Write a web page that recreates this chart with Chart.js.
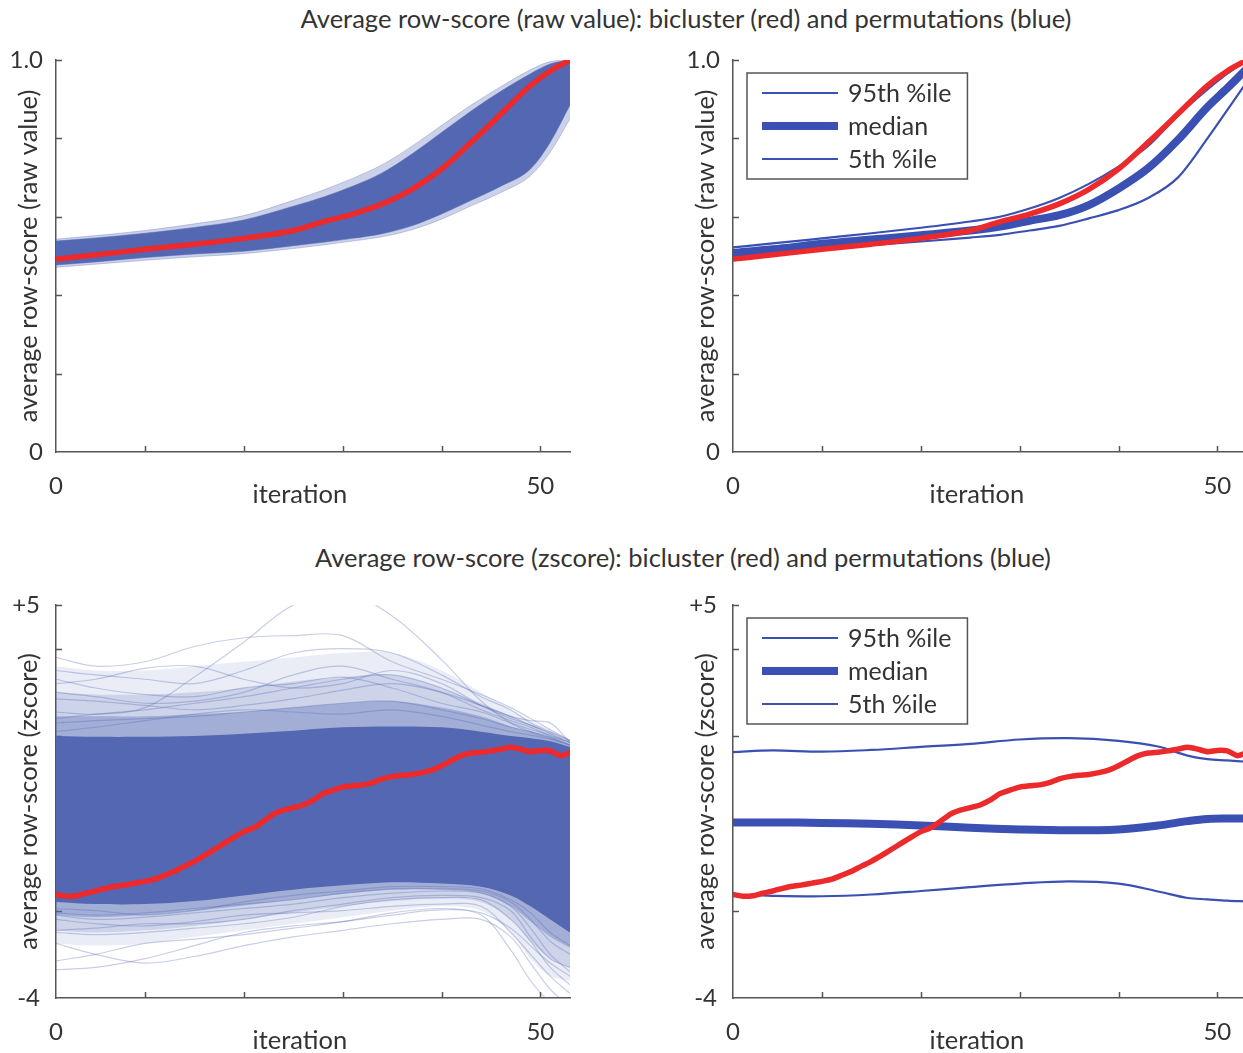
<!DOCTYPE html>
<html>
<head>
<meta charset="utf-8">
<script src="https://cdn.jsdelivr.net/npm/chart.js@4.4.1/dist/chart.umd.min.js"></script>
<style>
  html, body { margin: 0; padding: 0; background: #fff; overflow: hidden; width: 1243px; height: 1053px; }
  .titulo { position: absolute; left: 0; text-align: center; font: 25.5px/30px Lato, sans-serif; color: #333; white-space: nowrap; }
  canvas { position: absolute; }
</style>
</head>
<body>
<div class="titulo" style="top:3px; width:1372px">Average row-score (raw value): bicluster (red) and permutations (blue)</div>
<div class="titulo" style="top:542px; width:1366px">Average row-score (zscore): bicluster (red) and permutations (blue)</div>

<canvas id="rawPerm" width="640" height="500" style="left:0; top:40px"></canvas>
<canvas id="rawPct" width="640" height="500" style="left:677px; top:40px"></canvas>
<canvas id="zPerm" width="640" height="501" style="left:0; top:585px"></canvas>
<canvas id="zPct" width="640" height="501" style="left:677px; top:585px"></canvas>

<script>
// ===============================
// DATOS
// ===============================
const iteraciones = Array.from({ length: 53 }, (_, i) => i + 1);
const iterTicks = [1, 10, 20, 30, 40, 50];
const iterLabels = { 1: "0", 50: "50" };

const rawTicks = [0, 0.2, 0.4, 0.6, 0.8, 1.0];
const rawLabels = { 0: "0", 1: "1.0" };
const zTicks = [-4, -2, 0, 2, 4, 5];
const zLabels = { "-4": "-4", 5: "+5" };

// valor crudo
const rawIters = [1, 5, 10, 15, 20, 25, 28, 31, 34, 37, 40, 43, 46, 49, 51, 53];
const rawBicluster = [0.492, 0.503, 0.517, 0.530, 0.545, 0.565, 0.587, 0.607, 0.633, 0.670, 0.722, 0.790, 0.862, 0.935, 0.972, 1.0];
const rawPermTop = [0.538, 0.546, 0.558, 0.573, 0.592, 0.627, 0.650, 0.678, 0.712, 0.760, 0.815, 0.870, 0.920, 0.965, 0.990, 1.0];
const rawPermBottom = [0.477, 0.485, 0.496, 0.505, 0.512, 0.526, 0.535, 0.545, 0.557, 0.577, 0.607, 0.642, 0.678, 0.722, 0.790, 0.885];
const rawHazeTop = [0.543, 0.552, 0.565, 0.582, 0.603, 0.642, 0.668, 0.698, 0.733, 0.780, 0.833, 0.885, 0.932, 0.975, 0.996, 1.0];
const rawHazeBottom = [0.471, 0.479, 0.489, 0.498, 0.506, 0.519, 0.528, 0.538, 0.549, 0.567, 0.594, 0.628, 0.662, 0.705, 0.765, 0.850];
const rawP95 = [0.522, 0.532, 0.545, 0.558, 0.572, 0.588, 0.600, 0.621, 0.648, 0.684, 0.728, 0.781, 0.858, 0.925, 0.965, 1.0];
const rawMedian = [0.508, 0.517, 0.531, 0.542, 0.553, 0.565, 0.575, 0.590, 0.604, 0.630, 0.672, 0.724, 0.796, 0.880, 0.928, 0.978];
const rawP5 = [0.500, 0.508, 0.519, 0.528, 0.537, 0.547, 0.554, 0.565, 0.577, 0.596, 0.617, 0.648, 0.700, 0.800, 0.872, 0.945];

// zscore
const zBicluster = [-1.63, -1.67, -1.66, -1.60, -1.55, -1.49, -1.44, -1.41, -1.37, -1.33,
  -1.28, -1.19, -1.10, -0.98, -0.87, -0.74, -0.60, -0.46, -0.32, -0.19,
  -0.10, 0.05, 0.21, 0.30, 0.36, 0.42, 0.53, 0.68, 0.76, 0.83,
  0.86, 0.88, 0.93, 1.02, 1.07, 1.10, 1.12, 1.16, 1.22, 1.32,
  1.44, 1.55, 1.61, 1.63, 1.66, 1.70, 1.74, 1.70, 1.64, 1.67,
  1.66, 1.55, 1.62];
const zIters = [1, 5, 10, 15, 20, 25, 30, 35, 40, 44, 47, 49, 51, 53];
// núcleo denso y capas cada vez más claras hacia fuera
const zDenseTop = [2.00, 1.98, 1.98, 2.00, 2.05, 2.12, 2.20, 2.22, 2.20, 2.10, 2.00, 1.95, 1.88, 1.75];
const zDenseBottom = [-1.80, -1.85, -1.85, -1.78, -1.65, -1.52, -1.42, -1.35, -1.38, -1.45, -1.65, -1.90, -2.20, -2.50];
const zMid1Top = [2.45, 2.45, 2.45, 2.50, 2.55, 2.65, 2.75, 2.80, 2.65, 2.45, 2.22, 2.10, 1.98, 1.80];
const zMid1Bottom = [-2.10, -2.15, -2.10, -2.00, -1.88, -1.75, -1.62, -1.52, -1.52, -1.60, -1.90, -2.25, -2.60, -2.85];
const zMid2Top = [3.00, 2.95, 2.95, 3.00, 3.10, 3.25, 3.35, 3.40, 3.10, 2.75, 2.45, 2.25, 2.08, 1.85];
const zMid2Bottom = [-2.45, -2.50, -2.45, -2.35, -2.20, -2.05, -1.90, -1.78, -1.72, -1.80, -2.20, -2.70, -3.10, -3.30];
const zHazeTop = [3.60, 3.50, 3.50, 3.60, 3.70, 3.80, 3.90, 3.90, 3.50, 3.00, 2.60, 2.35, 2.15, 1.90];
const zHazeBottom = [-2.75, -2.80, -2.75, -2.60, -2.45, -2.30, -2.15, -2.00, -1.90, -2.00, -2.50, -3.10, -3.50, -3.60];
// permutaciones sueltas fuera del núcleo
const zPermLines = [
  [2.55, 2.50, 2.65, 3.35, 4.15, 5.00, 5.30, 4.75, 3.75, 2.80, 2.30, 2.10, 1.95, 1.80],
  [3.80, 3.60, 3.70, 4.05, 4.25, 4.30, 4.30, 3.70, 3.30, 2.95, 2.65, 2.40, 2.15, 1.90],
  [3.50, 3.40, 3.30, 3.20, 3.50, 3.90, 4.00, 3.90, 3.40, 2.90, 2.60, 2.30, 2.10, 1.90],
  [3.20, 3.30, 3.55, 3.60, 3.30, 3.10, 3.20, 3.50, 3.20, 2.70, 2.40, 2.25, 2.05, 1.85],
  [3.00, 2.90, 2.75, 2.80, 3.00, 3.40, 3.60, 3.30, 3.00, 2.60, 2.35, 2.20, 2.00, 1.85],
  [2.40, 2.50, 2.60, 2.75, 2.90, 3.10, 3.30, 3.40, 3.10, 2.70, 2.45, 2.35, 2.30, 1.85],
  [2.30, 2.35, 2.40, 2.45, 2.55, 2.65, 2.75, 2.80, 2.60, 2.40, 2.20, 2.10, 1.98, 1.80],
  [2.85, 2.80, 2.70, 2.60, 2.70, 2.85, 3.05, 3.20, 3.00, 2.70, 2.45, 2.25, 2.08, 1.88],
  [2.10, 2.20, 2.35, 2.50, 2.60, 2.55, 2.50, 2.60, 2.45, 2.25, 2.10, 2.02, 1.93, 1.78],
  [3.30, 3.10, 2.95, 2.90, 3.10, 3.20, 3.35, 3.10, 2.75, 2.55, 2.30, 2.15, 2.02, 1.85],
  [-3.35, -3.30, -3.10, -2.80, -2.50, -2.35, -2.25, -2.10, -1.98, -2.10, -2.90, -3.60, -4.10, -4.30],
  [-3.15, -3.00, -2.75, -2.65, -2.55, -2.40, -2.25, -2.05, -1.95, -2.05, -2.40, -2.80, -3.20, -3.50],
  [-2.75, -3.00, -3.20, -3.05, -2.80, -2.60, -2.45, -2.30, -2.20, -2.20, -2.60, -3.20, -3.80, -4.20],
  [-2.50, -2.55, -2.50, -2.40, -2.30, -2.15, -1.90, -1.75, -1.70, -1.75, -2.20, -2.70, -3.30, -3.70],
  [-2.10, -2.20, -2.15, -2.05, -1.95, -1.85, -1.70, -1.60, -1.55, -1.60, -1.90, -2.40, -3.00, -3.40],
  [-2.20, -2.30, -2.35, -2.25, -2.10, -2.05, -2.00, -1.90, -1.85, -1.90, -2.50, -3.00, -3.50, -3.90],
  [-2.05, -2.10, -2.05, -1.95, -1.85, -1.75, -1.60, -1.50, -1.50, -1.55, -1.80, -2.20, -2.70, -3.00],
  [-2.45, -2.40, -2.30, -2.30, -2.20, -2.00, -1.85, -1.70, -1.65, -1.70, -2.00, -2.60, -3.10, -3.30],
  [-1.95, -2.00, -2.10, -2.00, -1.80, -1.65, -1.55, -1.45, -1.45, -1.50, -1.75, -2.05, -2.50, -2.80]
];
const zP95 = [1.63, 1.67, 1.64, 1.68, 1.75, 1.82, 1.92, 1.95, 1.89, 1.76, 1.55, 1.47, 1.44, 1.41];
const zMedian = [0.02, 0.02, 0.01, -0.01, -0.05, -0.10, -0.14, -0.16, -0.14, -0.05, 0.05, 0.10, 0.11, 0.11];
const zP5 = [-1.63, -1.66, -1.67, -1.63, -1.55, -1.46, -1.38, -1.33, -1.38, -1.56, -1.71, -1.74, -1.77, -1.79];

// ===============================
// ESTILO
// ===============================
const ROJO = "#ec2a2c";
const AZUL = "rgb(83, 103, 178)";
const AZUL_PCT = "#3a50b2";
const TEXTO = "#333";
const FUENTE = "Lato, sans-serif";

function pts(xs, ys) {
    return ys.map((y, i) => ({ x: xs[i], y: y }));
}

// marcas de los ejes hacia dentro
const marcasInternas = {
    id: "marcasInternas",
    beforeDatasetsDraw(chart) {
        const { ctx } = chart;
        const x = chart.scales.x;
        const y = chart.scales.y;
        ctx.save();
        ctx.strokeStyle = "#555";
        ctx.lineWidth = 1.5;
        ctx.beginPath();
        x.ticks.forEach(t => {
            if (t.value === x.min) return;
            const px = Math.round(x.getPixelForValue(t.value)) + 0.5;
            ctx.moveTo(px, y.bottom);
            ctx.lineTo(px, y.bottom - 6);
        });
        y.ticks.forEach(t => {
            if (t.value === y.min) return;
            const py = Math.round(y.getPixelForValue(t.value)) + 0.5;
            ctx.moveTo(x.left, py);
            ctx.lineTo(x.left + 6, py);
        });
        ctx.stroke();
        ctx.restore();
    }
};

// leyenda con recuadro dentro del área del gráfico
const leyendaCaja = {
    id: "leyendaCaja",
    afterDraw(chart, args, opts) {
        if (!opts.display) return;
        const { ctx, chartArea } = chart;
        const filas = chart.data.datasets.filter(d => d.enLeyenda);
        ctx.save();
        ctx.font = "25px " + FUENTE;
        const x0 = chartArea.left + 14;
        const y0 = chartArea.top + 13;
        const anchoTexto = Math.max(...filas.map(f => ctx.measureText(f.label).width));
        const ancho = 101 + anchoTexto + 16;
        const alto = 106;
        ctx.fillStyle = "#fff";
        ctx.fillRect(x0, y0, ancho, alto);
        ctx.strokeStyle = "#555";
        ctx.lineWidth = 1.5;
        ctx.strokeRect(x0, y0, ancho, alto);
        filas.forEach((f, i) => {
            const y = y0 + 20 + i * 33;
            ctx.beginPath();
            ctx.moveTo(x0 + 15, y);
            ctx.lineTo(x0 + 91, y);
            ctx.strokeStyle = f.borderColor;
            ctx.lineWidth = f.borderWidth;
            ctx.stroke();
            ctx.fillStyle = TEXTO;
            ctx.textBaseline = "middle";
            ctx.fillText(f.label, x0 + 101, y + 1);
        });
        ctx.restore();
    }
};

function opciones(yMin, yMax, yTicks, yLabels, yTitulo, conLeyenda, yPad) {
    const fuenteTicks = { family: FUENTE, size: 24 };
    const fuenteTitulo = { family: FUENTE, size: 25.5 };
    return {
        responsive: false,
        animation: false,
        layout: { padding: { left: 0, top: 20, right: 70, bottom: 28 } },
        elements: { point: { radius: 0 } },
        plugins: {
            legend: { display: false },
            tooltip: { enabled: false },
            leyendaCaja: { display: conLeyenda }
        },
        scales: {
            x: {
                type: "linear",
                min: 1,
                max: 53,
                afterBuildTicks: s => { s.ticks = iterTicks.map(v => ({ value: v })); },
                afterFit: s => { s.height = 60; s.paddingLeft = 0; s.paddingRight = 0; },
                grid: { display: false, drawTicks: false },
                border: { display: true, color: "#555", width: 1.5 },
                ticks: {
                    autoSkip: false, maxRotation: 0, padding: 20, color: TEXTO, font: fuenteTicks,
                    callback: v => iterLabels[v] || ""
                },
                // los espacios finales corren el título un poco a la izquierda
                title: { display: true, text: "iteration    ", color: TEXTO, font: fuenteTitulo, padding: { top: 0, bottom: 2 } }
            },
            y: {
                min: yMin,
                max: yMax,
                afterBuildTicks: s => { s.ticks = yTicks.map(v => ({ value: v })); },
                afterFit: s => { s.width = 56; s.paddingTop = 0; s.paddingBottom = 0; },
                grid: { display: false, drawTicks: false },
                border: { display: true, color: "#555", width: 1.5 },
                ticks: {
                    autoSkip: false, padding: yPad, color: TEXTO, font: fuenteTicks,
                    callback: v => yLabels[v] || ""
                },
                title: { display: true, text: yTitulo, color: TEXTO, font: fuenteTitulo, padding: { top: 13, bottom: 0 } }
            }
        }
    };
}

function lineaRoja(xs, ys, suave) {
    return {
        label: "bicluster",
        data: pts(xs, ys),
        borderColor: ROJO,
        borderWidth: 5.5,
        borderCapStyle: "round",
        order: 0,
        cubicInterpolationMode: suave ? "monotone" : "default",
        tension: suave ? 0.4 : 0.15
    };
}

function percentiles(xs, p95, med, p5, suave) {
    const base = { borderColor: AZUL_PCT, fill: false, order: 1, tension: 0.35 };
    if (suave) base.cubicInterpolationMode = "monotone";
    return [
        Object.assign({}, base, { label: "95th %ile", data: pts(xs, p95), borderWidth: 2.2, enLeyenda: true }),
        Object.assign({}, base, { label: "median", data: pts(xs, med), borderWidth: 8, enLeyenda: true }),
        Object.assign({}, base, { label: "5th %ile", data: pts(xs, p5), borderWidth: 2.2, enLeyenda: true })
    ];
}

// par de bordes con relleno entre ellos
function banda(xs, arriba, abajo, color, orden, borde) {
    const comun = { borderWidth: borde ? 1 : 0, borderColor: borde || "transparent", order: orden };
    const suavizado = xs === rawIters ? { cubicInterpolationMode: "monotone" } : { tension: 0.35 };
    return [
        Object.assign({ data: pts(xs, arriba), backgroundColor: color, fill: "+1" }, comun, suavizado),
        Object.assign({ data: pts(xs, abajo), fill: false }, comun, suavizado)
    ];
}

Chart.register(marcasInternas, leyendaCaja);

// ===============================
// VALOR CRUDO: PERMUTACIONES
// ===============================
new Chart(document.getElementById("rawPerm"), {
    type: "line",
    data: {
        datasets: [lineaRoja(rawIters, rawBicluster, true)]
            .concat(banda(rawIters, rawPermTop, rawPermBottom, AZUL, 2, "rgba(83,103,178,0.5)"))
            .concat(banda(rawIters, rawHazeTop, rawHazeBottom, "rgba(83,103,178,0.3)", 3, "rgba(83,103,178,0.3)"))
    },
    options: opciones(0, 1, rawTicks, rawLabels, "average row-score (raw value)", false, 13)
});

// ===============================
// VALOR CRUDO: PERCENTILES
// ===============================
new Chart(document.getElementById("rawPct"), {
    type: "line",
    data: {
        datasets: [lineaRoja(rawIters, rawBicluster, true)].concat(percentiles(rawIters, rawP95, rawMedian, rawP5, true))
    },
    options: opciones(0, 1, rawTicks, rawLabels, "average row-score (raw value)", true, 13)
});

// ===============================
// ZSCORE: PERMUTACIONES
// ===============================
const zPermSets = [lineaRoja(iteraciones, zBicluster, false)]
    .concat(banda(zIters, zDenseTop, zDenseBottom, AZUL, 2))
    .concat(banda(zIters, zMid1Top, zMid1Bottom, "rgba(83,103,178,0.35)", 3))
    .concat(banda(zIters, zMid2Top, zMid2Bottom, "rgba(83,103,178,0.2)", 4))
    .concat(banda(zIters, zHazeTop, zHazeBottom, "rgba(83,103,178,0.12)", 5));
zPermLines.forEach(serie => {
    zPermSets.push({ data: pts(zIters, serie), borderColor: "rgba(83,103,178,0.32)", borderWidth: 1.2, fill: false, order: 6, tension: 0.35 });
});

new Chart(document.getElementById("zPerm"), {
    type: "line",
    data: { datasets: zPermSets },
    options: opciones(-4, 5, zTicks, zLabels, "average row-score (zscore)", false, 16)
});

// ===============================
// ZSCORE: PERCENTILES
// ===============================
new Chart(document.getElementById("zPct"), {
    type: "line",
    data: {
        datasets: [lineaRoja(iteraciones, zBicluster, false)].concat(percentiles(zIters, zP95, zMedian, zP5, false))
    },
    options: opciones(-4, 5, zTicks, zLabels, "average row-score (zscore)", true, 16)
});
</script>
</body>
</html>
